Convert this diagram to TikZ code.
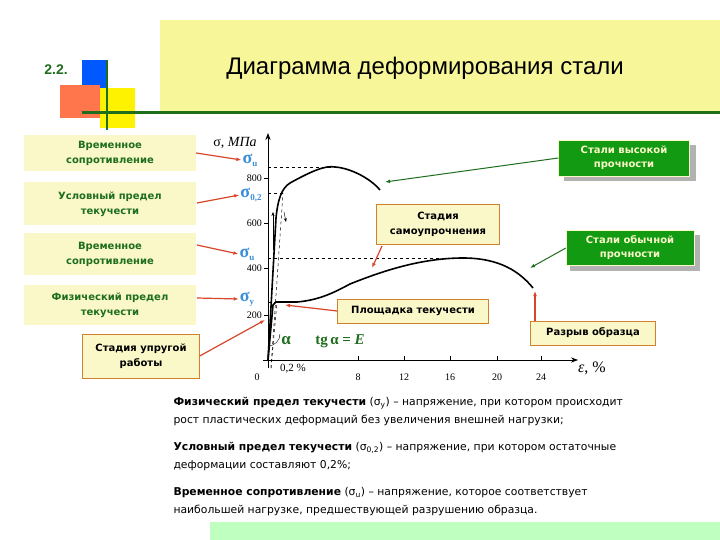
\documentclass[tikz,border=0pt]{standalone}
\usepackage{fontspec}
\setmainfont{Liberation Serif}
\newfontfamily\ui{DejaVu Sans}
\newfontfamily\tah{Liberation Sans}
\usetikzlibrary{arrows.meta}
\definecolor{ly}{HTML}{FAF8C8}
\definecolor{ty}{HTML}{F7F79A}
\definecolor{dg}{HTML}{1E6E1E}
\definecolor{gbox}{HTML}{129A12}
\definecolor{rarr}{HTML}{D8462A}
\definecolor{sb}{HTML}{3A8FD8}
\newcommand{\sgm}[1]{{\bfseries σ}\raisebox{-3pt}{\fontsize{9}{9}\selectfont\bfseries #1}}
\tikzset{
 lbox/.style={fill=ly,draw=none,text=dg,font=\ui\bfseries\fontsize{10}{15}\selectfont,align=center,minimum width=172pt},
 ybox/.style={fill=ly,draw=brown!70!orange,text=black,font=\ui\bfseries\fontsize{10}{15}\selectfont,align=center},
 gb/.style={fill=gbox,draw=ly,text=ly,font=\ui\bfseries\fontsize{10}{14}\selectfont,align=center},
 rar/.style={draw=rarr,line width=1.2pt,-{Latex[length=5pt]}},
 gar/.style={draw=dg,line width=1pt,-{Latex[length=5pt]}},
 crv/.style={line width=1.6pt},
 dsh/.style={dashed,line width=0.5pt},
 sig/.style={text=sb,font=\fontsize{18}{18}\selectfont,inner sep=1pt},
 tick/.style={font=\fontsize{10}{10}\selectfont,inner sep=1pt},
 defn/.style={anchor=north west,font=\ui\fontsize{10.8}{18}\selectfont,align=left}
}
\begin{document}
\begin{tikzpicture}[x=1pt,y=-1pt]
\useasboundingbox (0,0) rectangle (720,540);
\fill[white] (0,0) rectangle (720,540);
% title decorations
\fill[ty] (160,20) rectangle (720,112);
\fill[blue!65!cyan] (82,60) rectangle (108,88);
\fill[yellow] (100,88) rectangle (135,128);
\fill[red!55!orange!70] (60,85) rectangle (100,118);
\draw[dg,line width=3pt] (82,113) -- (720,113);
\draw[dg,line width=2.5pt] (107,60) -- (107,130);
\node[text=dg,font=\tah\bfseries\fontsize{14}{14}\selectfont] (num) at (56,70) {2.2.};
\node[font=\tah\fontsize{24}{24}\selectfont] (title) at (425,68) {Диаграмма деформирования стали};
\fill[green!25] (210,522) rectangle (720,540);
% axes
\coordinate (O) at (268,360);
\coordinate (Ytop) at (268,133);
\coordinate (Xend) at (578,360);
\draw[line width=0.8pt,-{Stealth[length=7pt]}] (268,368) -- (Ytop);
\draw[line width=0.8pt,-{Stealth[length=7pt]}] (263,360) -- (Xend);
\foreach \y/\l in {178/800,223/600,268/400,315/200}{\draw (264,\y)--(268,\y); \node[tick,anchor=east] at (263,\y) {\l};}
\foreach \x/\l in {358/8,404/12,450/16,497/20,541/24}{\draw (\x,360)--(\x,356); \node[tick] at (\x,377) {\l};}
\node[tick] at (257,377) {0};
\node[font=\fontsize{14}{14}\selectfont] (yl) at (235,143) {σ, \textit{МПа}};
\node[font=\fontsize{16}{16}\selectfont] (xl) at (592,368) {\textit{ε}, \%};
% dashed guides
\draw[dsh] (268,167) -- (333,167);
\draw[dsh] (268,193) -- (283,193);
\draw[dsh] (268,258) -- (463,258);
\draw[dsh] (268,302) -- (275,302);
\draw[dsh] (271,368) -- (283,193);
\draw[dsh] (271,368) -- (277,302);
% curves
\draw[crv] (O) -- (276,218) .. controls (278,198) and (282,188) .. (290,183) .. controls (310,172) and (325,165) .. (335,167) .. controls (350,168) and (370,178) .. (380,190);
\draw[crv] (O) -- (273,305) -- (276,302) -- (297,302) .. controls (320,300) and (335,292) .. (350,284) .. controls (380,272) and (420,258) .. (463,258) .. controls (500,258) and (520,272) .. (533,288);
\draw[-{Stealth[length=4pt]}] (273,250) -- (273,212);
\draw[-{Stealth[length=4pt]}] (284,212) -- (286,222);
\draw (268,346) arc (90:0:12);
\node[font=\fontsize{11}{11}\selectfont] at (293,369) {0,2 \%};
\node[text=dg,font=\bfseries\fontsize{17}{17}\selectfont] at (286,341) {α};
\node[text=dg,font=\bfseries\fontsize{15}{15}\selectfont] at (340,341) {tg\,α = \textit{E}};
% sigma labels
\node[sig] (su1) at (250,160) {\sgm{u}};
\node[sig] (s02) at (251,195) {\sgm{0,2}};
\node[sig] (su2) at (247,254) {\sgm{u}};
\node[sig] (sy) at (247,299) {\sgm{y}};
% left boxes
\node[lbox,minimum height=36pt] (b1) at (110,153) {Временное\\сопротивление};
\node[lbox,minimum height=43pt] (b2) at (110,204) {Условный предел\\текучести};
\node[lbox,minimum height=42pt] (b3) at (110,254) {Временное\\сопротивление};
\node[lbox,minimum height=40pt] (b4) at (110,305) {Физический предел\\текучести};
\node[ybox,minimum width=117pt,minimum height=44pt] (b5) at (141,356) {Стадия упругой\\работы};
\draw[rar] (b1.east) -- (su1.west);
\draw[rar] (197,203) -- (s02.west);
\draw[rar] (197,245) -- (su2.west);
\draw[rar] (197,298) -- (sy.west);
\draw[rar] (b5.east) -- (265,320);
% right boxes
\node[ybox,minimum width=123pt,minimum height=40pt] (st) at (438,224) {Стадия\\самоупрочнения};
\node[ybox,minimum width=151pt,minimum height=24pt] (pl) at (413,311) {Площадка текучести};
\node[ybox,minimum width=125pt,minimum height=24pt] (rz) at (593,333) {Разрыв образца};
\fill[gray!60] (564,145) rectangle (696,181);
\node[gb,minimum width=131pt,minimum height=36pt] (hi) at (624,158) {Стали высокой\\прочности};
\fill[gray!60] (570,235) rectangle (700,271);
\node[gb,minimum width=128pt,minimum height=35pt] (or) at (630,248) {Стали обычной\\прочности};
\draw[rar] (382,246) -- (372,268);
\draw[rar] (pl.west) -- (285,305);
\draw[rar] (535,321) -- (535,291);
\draw[gar] (hi.west) -- (385,182);
\draw[gar] (or.west) -- (530,268);
% definitions
\node[defn] (d1) at (170,394) {\textbf{Физический предел текучести} (σ\textsubscript{y}) – напряжение, при котором происходит\\рост пластических деформаций без увеличения внешней нагрузки;};
\node[defn] (d2) at (170,439) {\textbf{Условный предел текучести} (σ\textsubscript{0,2}) – напряжение, при котором остаточные\\деформации составляют 0,2\%;};
\node[defn] (d3) at (170,484) {\textbf{Временное сопротивление} (σ\textsubscript{u}) – напряжение, которое соответствует\\наибольшей нагрузке, предшествующей разрушению образца.};
\end{tikzpicture}
\end{document}
